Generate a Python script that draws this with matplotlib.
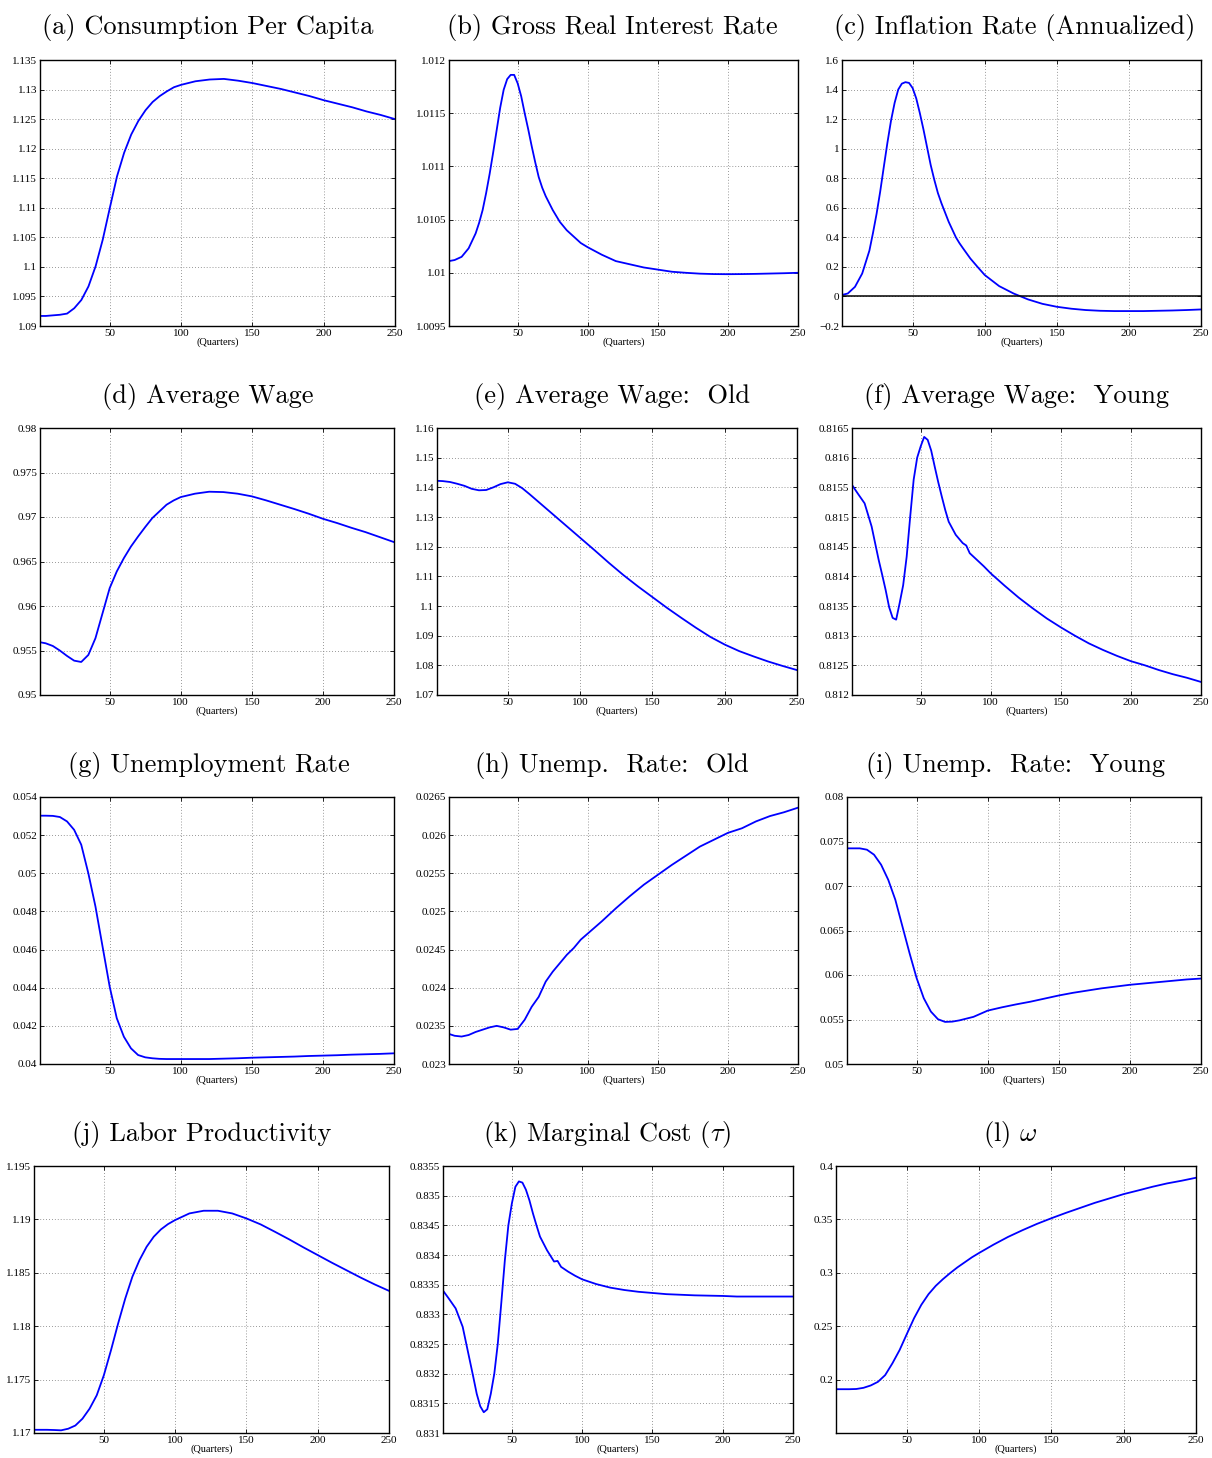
import numpy as np
import matplotlib
matplotlib.use('Agg')
import matplotlib.pyplot as plt
from matplotlib.ticker import FixedLocator, FuncFormatter

plt.rcParams['mathtext.fontset'] = 'cm'

quarters = [1, 5, 10, 15, 20, 25, 30, 35, 40, 45, 50, 55, 60, 65, 70, 75, 80, 85, 90, 95, 100,
            110, 120, 130, 140, 150, 160, 170, 180, 190, 200, 210, 220, 230, 240, 250]
# denser reading for the panels with sharp peaks
quarters_fine = [1, 5, 10, 15, 20, 22.5, 25, 27.5, 30, 32.5, 35, 37.5, 40, 42.5, 45, 47.5, 50, 52.5,
                 55, 57.5, 60, 62.5, 65, 67.5, 70, 75, 80, 82.5, 85, 90, 95, 100,
                 110, 120, 130, 140, 150, 160, 170, 180, 190, 200, 210, 220, 230, 240, 250]

consumption = [1.0917, 1.0917, 1.0918, 1.0919, 1.0921, 1.0930, 1.0944, 1.0967, 1.1001, 1.1046, 1.1100,
               1.1153, 1.1193, 1.1224, 1.1247, 1.1265, 1.1279, 1.1289, 1.1297, 1.1304, 1.1308,
               1.1314, 1.1317, 1.1318, 1.1315, 1.1311, 1.1306, 1.1301, 1.1295, 1.1289, 1.1282,
               1.1276, 1.1270, 1.1263, 1.1257, 1.1250]
interest = [1.01011, 1.01012, 1.01015, 1.01023, 1.01037, 1.01047, 1.01059, 1.01075, 1.01093, 1.01113,
            1.01134, 1.01155, 1.01172, 1.01182, 1.01186, 1.01186, 1.01178, 1.01166, 1.01150, 1.01135,
            1.01119, 1.01104, 1.01090, 1.01080, 1.01072, 1.01059, 1.01048, 1.01044, 1.01040, 1.01034,
            1.01028, 1.01024, 1.01017, 1.01011, 1.01008, 1.01005, 1.01003, 1.01001, 1.01000, 1.009992,
            1.009988, 1.009987, 1.009988, 1.009990, 1.009993, 1.009996, 1.010000]
inflation = [0.01, 0.02, 0.065, 0.155, 0.31, 0.43, 0.56, 0.71, 0.877, 1.04, 1.19, 1.31, 1.40, 1.44,
             1.45, 1.445, 1.41, 1.34, 1.24, 1.13, 1.01, 0.89, 0.79, 0.70, 0.63, 0.505, 0.40, 0.36,
             0.325, 0.257, 0.20, 0.145, 0.07, 0.02, -0.02, -0.05, -0.07, -0.083, -0.092, -0.097,
             -0.099, -0.099, -0.099, -0.097, -0.095, -0.092, -0.088]
wage = [0.95593, 0.95581, 0.95551, 0.95499, 0.95439, 0.95386, 0.95371, 0.95450, 0.95638, 0.95919, 0.96200,
        0.96388, 0.96538, 0.96669, 0.96781, 0.96887, 0.96988, 0.97063, 0.97138, 0.97186, 0.97224,
        0.97262, 0.97284, 0.97280, 0.97262, 0.97232, 0.97187, 0.97138, 0.97089, 0.97037, 0.96980,
        0.96932, 0.96879, 0.96830, 0.96774, 0.96718]
wage_old = [1.1422, 1.1421, 1.1418, 1.1412, 1.1405, 1.1395, 1.1390, 1.1391, 1.1400, 1.1411, 1.1417,
            1.1412, 1.1397, 1.1377, 1.1356, 1.1335, 1.1314, 1.1293, 1.1272, 1.1251, 1.1230,
            1.1188, 1.1145, 1.1104, 1.1066, 1.1030, 1.0994, 1.0960, 1.0927, 1.0896, 1.0870,
            1.0848, 1.0830, 1.0813, 1.0798, 1.0784]
wage_young = [0.81554, 0.81540, 0.81523, 0.81484, 0.81428, 0.81403, 0.81377, 0.81348, 0.81330, 0.81327,
              0.81355, 0.81385, 0.81433, 0.81500, 0.81563, 0.81600, 0.81619, 0.81635, 0.81630, 0.81612,
              0.81585, 0.81559, 0.81535, 0.81512, 0.81492, 0.81470, 0.81456, 0.81452, 0.81439, 0.81428,
              0.81417, 0.81405, 0.81384, 0.81364, 0.81346, 0.81329, 0.81314, 0.81300, 0.81287, 0.81276,
              0.81266, 0.81257, 0.81250, 0.81242, 0.81235, 0.81229, 0.81222]
unemp = [0.05302, 0.05302, 0.05301, 0.05295, 0.05272, 0.05228, 0.05150, 0.05000, 0.04826, 0.04616, 0.04406,
         0.04240, 0.04143, 0.04082, 0.04047, 0.04035, 0.04030, 0.04027, 0.04026, 0.04026, 0.04026,
         0.04026, 0.04026, 0.04028, 0.04030, 0.04033, 0.04035, 0.04037, 0.04039, 0.04042, 0.04044,
         0.04046, 0.04049, 0.04051, 0.04053, 0.04056]
unemp_old = [0.023394, 0.02337, 0.02336, 0.02338, 0.02342, 0.02345, 0.02348, 0.02350, 0.02348, 0.02345, 0.02346,
             0.02358, 0.02375, 0.02388, 0.02408, 0.02421, 0.02432, 0.02443, 0.02452, 0.02463, 0.02471,
             0.02487, 0.02504, 0.02520, 0.02535, 0.02548, 0.02561, 0.02573, 0.02585, 0.02594, 0.02603,
             0.02609, 0.02618, 0.02625, 0.02630, 0.02636]
unemp_young = [0.07423, 0.07423, 0.07423, 0.07408, 0.07352, 0.07239, 0.07070, 0.06845, 0.06545, 0.06245, 0.05964,
               0.05739, 0.05589, 0.05503, 0.05473, 0.05476, 0.05490, 0.05510, 0.05530, 0.05565, 0.05600,
               0.05637, 0.05670, 0.05700, 0.05735, 0.05770, 0.05800, 0.05825, 0.05850, 0.05870, 0.05890,
               0.05905, 0.05920, 0.05935, 0.05950, 0.05960]
productivity = [1.17030, 1.17030, 1.17030, 1.17028, 1.17025, 1.17040, 1.17070, 1.17134, 1.17228, 1.17353, 1.17541,
                1.17775, 1.18025, 1.18259, 1.18463, 1.18619, 1.18744, 1.18838, 1.18906, 1.18956, 1.18994,
                1.19056, 1.19081, 1.19081, 1.19056, 1.19009, 1.18953, 1.18884, 1.18813, 1.18738, 1.18666,
                1.18594, 1.18525, 1.18456, 1.18391, 1.18331]
marg_cost = [0.83340, 0.83327, 0.83310, 0.83279, 0.83223, 0.83195, 0.83166, 0.83145, 0.83135, 0.83140,
             0.83166, 0.83200, 0.83251, 0.83320, 0.83391, 0.83450, 0.83487, 0.83515, 0.83524, 0.83522,
             0.83510, 0.83492, 0.83470, 0.83450, 0.83431, 0.83408, 0.83389, 0.83390, 0.83380, 0.83372,
             0.83365, 0.83359, 0.83351, 0.83345, 0.83341, 0.83338, 0.83336, 0.83334, 0.83333, 0.83332,
             0.833315, 0.83331, 0.83330, 0.83330, 0.83330, 0.83330, 0.83330]
omega = [0.1910, 0.1910, 0.1910, 0.1912, 0.1923, 0.1945, 0.1979, 0.2042, 0.2152, 0.2277, 0.2427,
         0.2575, 0.2700, 0.2800, 0.2878, 0.2941, 0.2998, 0.3051, 0.3098, 0.3145, 0.3186,
         0.3264, 0.3336, 0.3399, 0.3458, 0.3511, 0.3561, 0.3608, 0.3655, 0.3696, 0.3737,
         0.3771, 0.3806, 0.3837, 0.3862, 0.3890]

titles = ['(a) Consumption Per Capita', '(b) Gross Real Interest Rate', '(c) Inflation Rate (Annualized)',
          '(d) Average Wage', '(e) Average Wage:  Old', '(f) Average Wage:  Young',
          '(g) Unemployment Rate', '(h) Unemp.  Rate:  Old', '(i) Unemp.  Rate:  Young',
          '(j) Labor Productivity', r'(k) Marginal Cost ($\tau$)', r'(l) $\omega$']
series = [consumption, interest, inflation, wage, wage_old, wage_young,
          unemp, unemp_old, unemp_young, productivity, marg_cost, omega]
fine = [False, True, True, False, False, True, False, False, False, False, True, False]
y_limits = [(1.09, 1.135), (1.0095, 1.012), (-0.2, 1.6), (0.95, 0.98), (1.07, 1.16), (0.812, 0.8165),
            (0.04, 0.054), (0.023, 0.0265), (0.05, 0.08), (1.17, 1.195), (0.831, 0.8355), (0.15, 0.4)]
y_steps = [0.005, 0.0005, 0.2, 0.005, 0.01, 0.0005, 0.002, 0.0005, 0.005, 0.005, 0.0005, 0.05]

W, H = 1212, 1458
# axes boxes in pixels: left, right, top, bottom
boxes = [(40, 395, 60, 326), (449, 798, 60, 326), (842, 1201, 60, 326),
         (40, 394, 428, 695), (437, 797, 428, 695), (852, 1201, 428, 695),
         (40, 394, 797, 1064), (449, 798, 797, 1064), (847, 1201, 797, 1064),
         (34, 389, 1166, 1433), (443, 793, 1166, 1433), (836, 1196, 1166, 1433)]
title_x = [208, 612, 1015, 208, 612, 1016, 209, 612, 1016, 202, 607, 1010]
title_base = [34, 34, 34, 403, 403, 403, 772, 772, 772, 1141, 1141, 1141]

fig = plt.figure(figsize=(W / 100, H / 100), dpi=100)

def fmt(v, pos):
    s = f'{v:.6g}'
    return s.replace('-', '\u2212')

for i in range(12):
    l, r, t, b = boxes[i]
    ax = fig.add_axes([l / W, 1 - b / H, (r - l) / W, (b - t) / H])
    xs = quarters_fine if fine[i] else quarters
    ax.plot(xs, series[i], color='#0000ff', lw=1.3)
    if i == 2:
        ax.axhline(0, color='black', lw=1.1)
    lo, hi = y_limits[i]
    ax.set_xlim(1, 250)
    ax.set_ylim(lo, hi)
    start = 0.2 if i == 11 else lo
    yt = np.round(np.arange(start, hi + y_steps[i] / 2, y_steps[i]), 6)
    ax.yaxis.set_major_locator(FixedLocator(yt))
    ax.xaxis.set_major_locator(FixedLocator([50, 100, 150, 200, 250]))
    ax.yaxis.set_major_formatter(FuncFormatter(fmt))
    ax.tick_params(direction='in', top=True, right=True, length=3, width=0.6,
                   labelsize=8, pad=2)
    for lab in ax.get_xticklabels() + ax.get_yticklabels():
        lab.set_family('Liberation Serif')
    ax.grid(True, linestyle=(0, (1, 2.5)), color='#777777', lw=0.6)
    for sp in ax.spines.values():
        sp.set_linewidth(1.0)
    ax.set_xlabel('(Quarters)', fontsize=7.5, family='Liberation Serif', labelpad=0)
    fig.text(title_x[i] / W, 1 - title_base[i] / H, titles[i], ha='center', va='baseline',
             fontsize=19, family='cmr10')

fig.savefig('out.png', dpi=100)
